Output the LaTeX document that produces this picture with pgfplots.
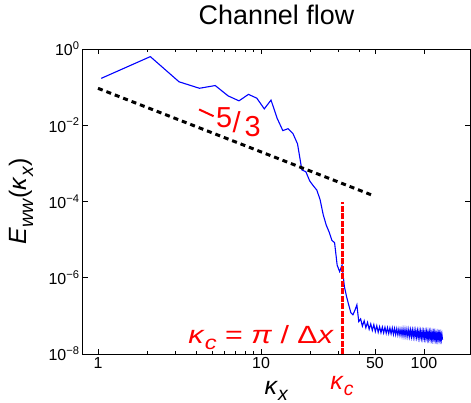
\documentclass[border=0pt]{standalone}
\usepackage{fontspec}
\setmainfont{Liberation Sans}
\usepackage{graphicx}
\usepackage{pgfplots}
\pgfplotsset{compat=1.18}

\newcommand{\kap}{\textit{κ}}
\newcommand{\sub}[1]{\raisebox{-0.25em}{\scalebox{0.78}{\textit{#1}}}}
\newcommand{\lab}{\fontsize{25}{29}\selectfont}

% spectrum E_ww(k_x), k_x = 1.0472 n
\pgfplotstableread{
k E
1.047 1.70e-1
2.094 6.31e-1
3.142 1.38e-1
4.189 9.33e-2
5.236 1.10e-1
6.283 5.89e-2
7.330 4.37e-2
8.378 6.46e-2
9.425 5.13e-2
10.472 2.69e-2
11.519 4.57e-2
12.566 1.51e-2
13.614 7.24e-3
14.661 8.13e-3
15.708 6.03e-3
16.755 3.24e-3
17.802 6.76e-4
18.850 6.03e-4
19.897 3.47e-4
20.944 2.57e-4
21.991 2.00e-4
23.038 1.12e-4
24.086 4.47e-5
25.133 2.40e-5
26.180 1.58e-5
27.227 9.55e-6
28.274 8.32e-6
29.322 2.14e-6
30.369 1.45e-6
31.416 2.14e-6
32.463 5.89e-7
33.510 3.16e-7
34.558 1.91e-7
35.605 1.20e-7
36.652 1.07e-7
37.699 1.41e-7
38.746 1.95e-7
39.794 7.08e-8
40.84 8.32e-8
41.89 5.37e-8
42.94 7.41e-8
43.98 4.90e-8
45.03 6.76e-8
46.08 4.47e-8
47.12 6.17e-8
48.17 4.17e-8
49.22 5.89e-8
50.27 3.89e-8
51.31 5.50e-8
52.36 3.72e-8
53.41 5.19e-8
54.45 3.63e-8
55.50 5.09e-8
56.55 3.57e-8
57.60 5.01e-8
58.64 3.51e-8
59.69 4.90e-8
60.74 3.44e-8
61.78 4.82e-8
62.83 3.38e-8
63.88 4.79e-8
64.93 3.28e-8
65.97 4.70e-8
67.02 3.22e-8
68.07 4.61e-8
69.12 3.16e-8
70.16 4.53e-8
71.21 3.10e-8
72.26 4.47e-8
73.30 3.00e-8
74.35 4.52e-8
75.40 2.96e-8
76.45 4.46e-8
77.49 2.93e-8
78.54 4.39e-8
79.59 2.90e-8
80.63 4.34e-8
81.68 2.87e-8
82.73 4.27e-8
83.78 2.84e-8
84.82 4.22e-8
85.87 2.81e-8
86.92 4.17e-8
87.96 2.78e-8
89.01 4.10e-8
90.06 2.75e-8
91.11 4.06e-8
92.15 2.71e-8
93.20 4.01e-8
94.25 2.68e-8
95.30 3.95e-8
96.34 2.65e-8
97.39 3.90e-8
98.44 2.62e-8
99.48 3.85e-8
100.53 2.60e-8
101.58 3.82e-8
102.63 2.59e-8
103.67 3.78e-8
104.72 2.56e-8
105.77 3.73e-8
106.81 2.55e-8
107.86 3.69e-8
108.91 2.52e-8
109.96 3.64e-8
111.00 2.51e-8
112.05 3.60e-8
113.10 2.49e-8
114.14 3.56e-8
115.19 2.47e-8
116.24 3.51e-8
117.29 2.46e-8
118.33 3.47e-8
119.38 2.44e-8
120.43 3.41e-8
121.47 2.43e-8
122.52 3.37e-8
123.57 2.42e-8
124.62 3.33e-8
125.66 2.40e-8
126.71 3.28e-8
127.76 2.39e-8
128.81 3.23e-8
129.85 2.37e-8
}\spec

\begin{document}
\begin{tikzpicture}
\begin{axis}[
    scale only axis,
    width=387bp, height=305bp,
    xmode=log, ymode=log,
    xmin=0.809, xmax=191.5,
    ymin=1e-8, ymax=1,
    xtick={1,10,50,100},
    xticklabels={1,10,50,100},
    minor xtick={2,3,4,5,6,7,8,9,20,30,40},
    ytick={1e-8,1e-6,1e-4,1e-2,1},
    yticklabels={10\textsuperscript{−8},10\textsuperscript{−6},10\textsuperscript{−4},10\textsuperscript{−2},10\textsuperscript{0}},
    yminorticks=false,
    tick align=inside,
    major tick length=5bp, minor tick length=3bp,
    axis line style={line width=1bp},
    every tick/.style={black, line width=0.8bp},
    ticklabel style={font=\fontsize{16}{18}\selectfont},
    title={Channel flow},
    title style={font=\fontsize{27}{30}\selectfont, at={(rel axis cs:0.5,1)}, anchor=base, yshift=19bp},
    xlabel={\kap\sub{x}},
    xlabel style={font=\lab, at={([yshift=-40bp]rel axis cs:0.5,0)}, anchor=base},
    ylabel={\textit{E}\sub{ww}(\kap\sub{x})},
    ylabel style={font=\lab, at={([xshift=-56bp]rel axis cs:0,0.5)}, anchor=base},
    clip=false,
]
\addplot[blue, line width=1.1bp] table[x=k, y=E] {\spec};
\addplot[black, line width=3bp, dash pattern=on 5bp off 4bp] coordinates {(1,0.093) (49,1.42e-4)};
\addplot[red, dash pattern=on 6bp off 1.5bp, line width=3bp] coordinates {(31.42,1e-8) (31.42,1e-4)};

\node[red, font=\lab, anchor=base east, inner sep=0pt] at ([xshift=-8bp,yshift=11bp]axis cs:31.42,1e-8)
  {\scalebox{1.22}[1]{\kap\sub{c} = \textit{π} / Δ\textit{x}}};
\node[red, font=\lab, anchor=base, inner sep=0pt] at ([yshift=-35bp]axis cs:31.42,1e-8)
  {\kap\sub{c}};

% -5/3 slope label, its glyphs stepping down along the line
\node[red, inner sep=0pt, rotate=-25] at (axis cs:4.62,0.0212) {\color{red}\rule{16bp}{2bp}};
\node[red, font=\fontsize{29}{32}\selectfont, inner sep=0pt] at (axis cs:5.94,0.0160) {5};
\node[red, font=\fontsize{29}{32}\selectfont, inner sep=0pt] at (axis cs:7.09,0.0118) {/};
\node[red, font=\fontsize{29}{32}\selectfont, inner sep=0pt] at (axis cs:8.89,0.00927) {3};

\coordinate (bl) at (rel axis cs:0,0);
\coordinate (tr) at (rel axis cs:1,1);
\end{axis}
\pgfresetboundingbox
\path[use as bounding box] ([xshift=-83bp,yshift=-49bp]bl) rectangle ([xshift=1bp,yshift=49bp]tr);
\end{tikzpicture}
\end{document}
